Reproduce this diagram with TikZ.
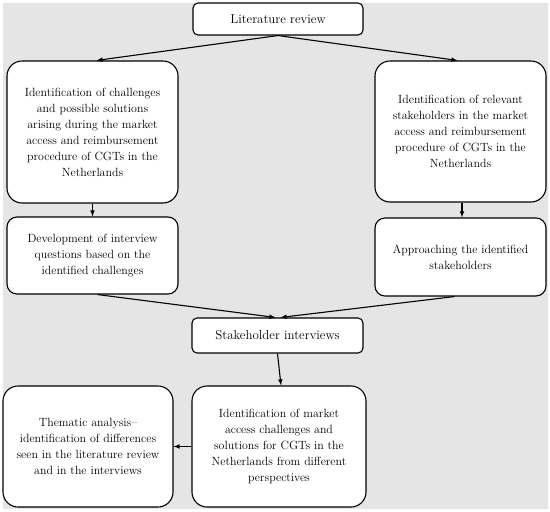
\documentclass[tikz,border=0pt]{standalone}
\usepackage{tikz}

\begin{document}
\begin{tikzpicture}[
    x=1pt, y=-1pt,
    box/.style={draw, fill=white, line width=1.1pt, rounded corners=#1,
        align=center, inner sep=0pt,
        font=\fontsize{11.9}{16}\selectfont},
    box/.default=15pt,
    title/.style={font=\fontsize{12.9}{16}\selectfont},
    >=latex
]
\useasboundingbox (0,0) rectangle (550,512);
\fill[gray!20] (3,3) rectangle (548,509);

% Top row
\node[box=5pt, title, minimum width=170pt, minimum height=32pt] (lit) at (278,19) {Literature review};

% Identification boxes
\node[box, minimum width=171pt, minimum height=142pt] (chal) at (92.5,132)
    {Identification of challenges\\and possible solutions\\arising during the market\\access and reimbursement\\procedure of CGTs in the\\Netherlands};
\node[box, minimum width=171pt, minimum height=141pt] (stak) at (460.5,131.5)
    {Identification of relevant\\stakeholders in the market\\access and reimbursement\\procedure of CGTs in the\\Netherlands};

% Second row
\node[box=10pt, minimum width=171pt, minimum height=77pt] (dev) at (92.5,255.5)
    {Development of interview\\questions based on the\\identified challenges};
\node[box=10pt, minimum width=171pt, minimum height=78pt] (appr) at (460.5,257)
    {Approaching the identified\\stakeholders};

% Interviews
\node[box=5pt, title, minimum width=171pt, minimum height=35pt] (intv) at (277.5,335.5) {Stakeholder interviews};

% Bottom row
\node[box, minimum width=170pt, minimum height=121pt] (them) at (88,446.5)
    {Thematic analysis--\\identification of differences\\seen in the literature review\\and in the interviews};
\node[box, minimum width=174pt, minimum height=121pt] (res) at (279,446.5)
    {Identification of market\\access challenges and\\solutions for CGTs in the\\Netherlands from different\\perspectives};

% Connections
\draw[->, line width=1.1pt] (lit.south) -- ([xshift=4pt]chal.north);
\draw[->, line width=1.1pt] (lit.south) -- ([xshift=-3pt]stak.north);
\draw[->, line width=1.1pt] (chal) -- (dev);
\draw[->, line width=1.1pt] ([xshift=1.5pt]stak.south) -- ([xshift=1.5pt]appr.north);
\draw[->, line width=1.1pt] ([xshift=5pt]dev.south) -- ([xshift=-2pt]intv.north);
\draw[->, line width=1.1pt] ([xshift=-6pt]appr.south) -- ([xshift=3pt]intv.north);
\draw[->, line width=1.1pt] (intv.south) -- ([xshift=2pt]res.north);
\draw[->, line width=1.1pt] (res.west) -- (them.east);
\end{tikzpicture}
\end{document}
